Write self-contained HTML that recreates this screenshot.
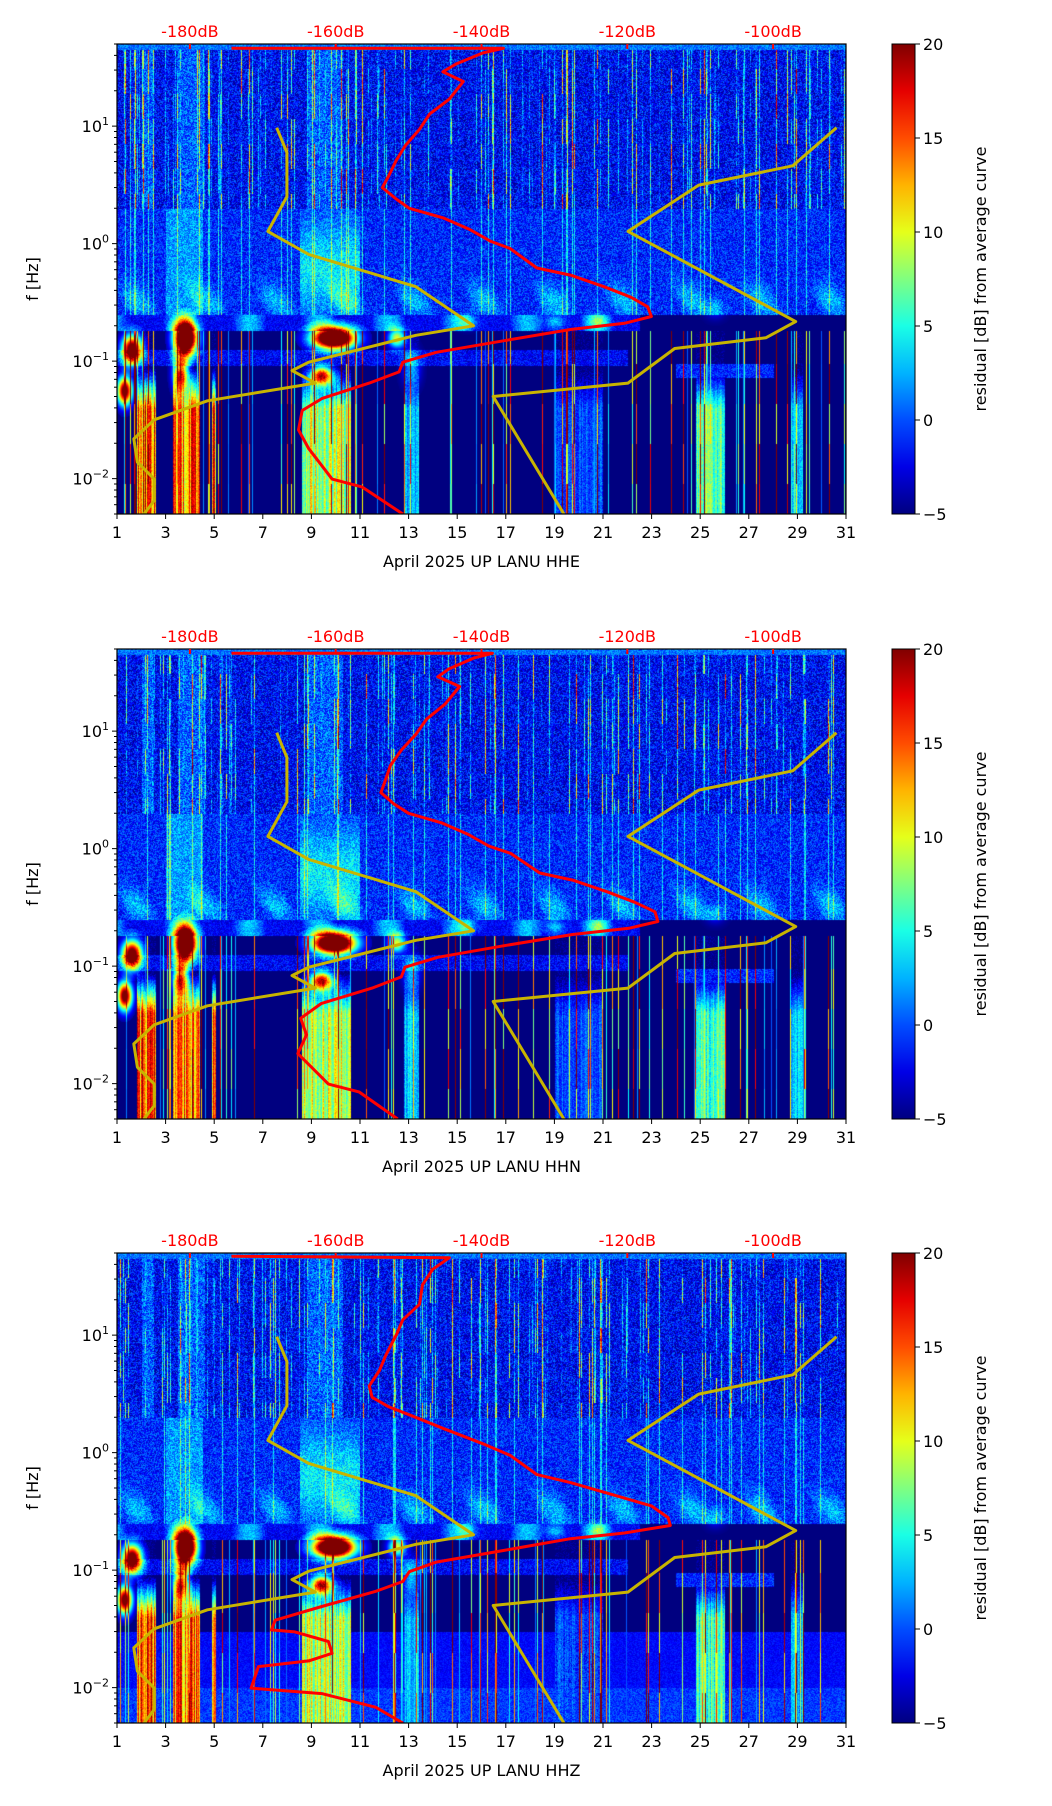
<!DOCTYPE html>
<html><head><meta charset="utf-8">
<style>
html,body{margin:0;padding:0;background:#fff;}
#wrap{position:relative;width:1052px;height:1806px;overflow:hidden;font-family:"DejaVu Sans","Liberation Sans",sans-serif;}
canvas{position:absolute;}
svg{position:absolute;left:0;top:0;}
</style></head>
<body>
<div id="wrap">
<svg id="svg" width="1052" height="1806"></svg>
</div>
<script>
// ---- data ----
const panelTitles = ["April 2025 UP LANU  HHE","April 2025 UP LANU  HHN","April 2025 UP LANU  HHZ"];
const dayTicks = [1,3,5,7,9,11,13,15,17,19,21,23,25,27,29,31];
const dbTicks = [-180,-160,-140,-120,-100];
const cbTicks = [-5,0,5,10,15,20];
const yTickExp = [-2,-1,0,1];
// red curve (average PSD) per panel: dB and frequency (Hz)
const red1Db = [-174.3,-137.0,-139.8,-143.5,-145.3,-142.5,-144.4,-147.1,-148.5,-150.4,-151.7,-152.7,-153.6,-151.7,-149.9,-145.3,-141.6,-138.8,-136.1,-132.4,-127.8,-123.2,-119.5,-117.2,-116.7,-120.4,-127.8,-137.0,-146.2,-150.8,-151.3,-155.4,-161.9,-164.6,-165.1,-163.7,-160.5,-156.4,-150.8];
const red1F  = [46,46,42,33.8,29,24,17,12.7,9.4,6.9,5.1,3.8,3.0,2.4,2.0,1.66,1.32,1.05,0.91,0.62,0.54,0.43,0.35,0.29,0.24,0.21,0.186,0.149,0.119,0.098,0.081,0.065,0.048,0.038,0.026,0.018,0.0099,0.0085,0.005];
const red2Db = [-174.3,-138.5,-141.0,-144.5,-146.0,-143.0,-145.0,-147.5,-149.0,-151.0,-152.5,-153.2,-153.8,-152.0,-150.0,-145.5,-141.8,-139.0,-136.0,-132.0,-127.5,-122.8,-119.0,-116.2,-115.8,-119.8,-127.5,-137.0,-146.0,-150.5,-151.0,-155.0,-162.0,-164.8,-164.0,-165.2,-161.0,-156.8,-151.5];
const red2F  = [46,46,42,33.8,29,24,17,12.7,9.4,6.9,5.1,3.8,3.0,2.4,2.0,1.66,1.32,1.05,0.91,0.62,0.54,0.43,0.35,0.29,0.24,0.21,0.186,0.149,0.119,0.098,0.081,0.065,0.048,0.036,0.026,0.018,0.0099,0.0085,0.005];
const red3Db = [-174.3,-144.4,-146.7,-148.1,-148.5,-150.8,-151.7,-153.1,-154.0,-155.4,-155.0,-152.7,-149.9,-145.3,-139.8,-136.1,-132.4,-127.8,-121.3,-116.7,-114.4,-114.1,-120.4,-127.8,-137.0,-146.2,-149.9,-150.8,-154.5,-161.9,-168.3,-168.8,-165.6,-161.0,-160.5,-163.7,-170.6,-171.6,-161.9,-154.5,-150.8];
const red3F  = [47,45.6,36.3,26.8,18.3,13.5,10,6.8,5.0,3.7,2.96,2.45,2.1,1.61,1.19,0.95,0.65,0.556,0.426,0.352,0.28,0.24,0.207,0.185,0.147,0.117,0.097,0.080,0.066,0.049,0.0375,0.031,0.0298,0.0247,0.0196,0.0169,0.0151,0.0099,0.0089,0.0068,0.005];
// Peterson low / high noise models
const nlnmDb = [-168.1,-166.7,-166.7,-169.3,-163.7,-149.0,-141.1,-149.0,-163.7,-166.0,-162.8,-177.6,-184.9,-187.7,-187.2,-184.9,-184.9,-186.3];
const nlnmF  = [9.7,5.97,2.51,1.27,0.81,0.43,0.20,0.166,0.098,0.083,0.065,0.046,0.0317,0.0218,0.0138,0.0099,0.0065,0.005];
const nhnmDb = [-91.3,-97.3,-110.2,-119.9,-96.9,-101.0,-113.5,-119.9,-138.4,-128.7];
const nhnmF  = [9.7,4.6,3.15,1.27,0.217,0.158,0.128,0.065,0.050,0.005];

const redDb=[red1Db,red2Db,red3Db], redF=[red1F,red2F,red3F];
// ---- layout ----
const L=117, W=729, H=470, tops=[44,649,1253];
const CBX=892, CBW=23;
const LTOP=Math.log10(50), LBOT=Math.log10(0.005);
const NS="http://www.w3.org/2000/svg";
const svg=document.getElementById('svg');
function xDay(d){return L+(d-1)/30*W;}
function dbToDay(db){return 4+(db+180)*0.3;}
function yF(top,f){return top+(LTOP-Math.log10(f))/(LTOP-LBOT)*H;}
function mk(tag,attrs,parent){const e=document.createElementNS(NS,tag);for(const k in attrs)e.setAttribute(k,attrs[k]);(parent||svg).appendChild(e);return e;}
function jet(t){const c=x=>Math.max(0,Math.min(1,x));return [c(1.5-Math.abs(4*t-3))*255,c(1.5-Math.abs(4*t-2))*255,c(1.5-Math.abs(4*t-1))*255];}
function hash(a,b){let h=(a*374761393+b*668265263)|0;h=(h^(h>>>13))*1274126177|0;h=h^(h>>>16);return ((h>>>0)%100000)/100000;}
const blobs=[[3.8,-0.8,0.45,0.14,40],[9.9,-0.8,0.85,0.09,40],[1.6,-0.9,0.4,0.12,30],[1.3,-1.25,0.3,0.12,28],[9.4,-1.12,0.45,0.08,22],[3.6,-1.1,0.3,0.15,20],[12.5,-0.8,0.35,0.08,15],[13.1,-1.05,0.35,0.15,7],[15.4,-0.66,0.4,0.06,5],[19,-0.66,0.4,0.06,5],[20.8,-0.66,0.4,0.06,6],[25.6,-0.55,0.4,0.08,4]];
// low-frequency vertical band amplitude
function band(d){
  if(d>1.8&&d<2.6)return 15; if(d>3.3&&d<4.4)return 14; if(d>4.9&&d<5.05)return 14;
  if(d>8.6&&d<10.6)return 9; if(d>12.8&&d<13.4)return 3; if(d>19&&d<21)return 0;
  if(d>24.8&&d<26)return 6; if(d>28.7&&d<29.2)return 3; return -5;
}
function val(p,d,lf,px,py){
  const n=hash(px,py+p*1000)-0.5, c=hash(px,777+p);
  let v;
  if(lf>1.65){v=1+n*4;}
  else if(lf>0.3){
    v=-2+n*6;
    if(c>0.8)v+=(c-0.8)*100*hash(px,Math.floor(py/25)+p);
    if((d>2&&d<2.5)||(d>3.5&&d<4.6)||(d>8.8&&d<10.3))v+=2.5;
  } else if(lf>-0.6){
    v=-1+n*5;
    v+=4*Math.exp(-Math.pow((lf+0.48)/0.15,2))*Math.max(0,Math.sin(d*2.2+lf*5));
    if(d>8.5&&d<11)v+=5*Math.exp(-Math.pow((lf+0.2)/0.4,2));
    if(d>3&&d<4.5)v+=3;
    if(c>0.92)v+=5;
  } else if(lf>-0.74){
    v=d<22.5?(-2+5*Math.max(0,Math.sin(d*2.2))+n*3):-5;
  } else {
    v=-5;
    if(lf>-1.25){ if(d<22&&Math.abs(lf+0.97)<0.07)v=-2+n*4; if(d>24&&d<28&&Math.abs(lf+1.08)<0.06)v=-1+n*4;}
    const s=Math.max(0,Math.min(1,(-1.05-lf)/0.35));
    const b=band(d);
    if(b>-5){const col=0.75+0.5*hash(px,11+p);v=Math.max(v,-5+(b+5)*s*col+n*3);}
    if(p===2&&lf<-1.52&&v<-1)v=-1.8+n*2;
    if(p===2&&lf<-2&&v<0)v=-0.5+n*3;
    if(c>0.88)v=Math.max(v,(c-0.88)*180*(0.5+hash(px,Math.floor(py/40))));
  }
  for(const b of blobs){const e=Math.exp(-Math.pow((d-b[0])/b[2],2)-Math.pow((lf-b[1])/b[3],2));if(e>0.03)v=v+b[4]*e;}
  return Math.max(-5,Math.min(20,v));
}
tops.forEach((top,p)=>{
  const cv=document.createElement('canvas');cv.width=W;cv.height=H;cv.style.left=L+'px';cv.style.top=top+'px';
  
  
  document.getElementById('wrap').insertBefore(cv,svg);
  const ctx=cv.getContext('2d'),img=ctx.createImageData(W,H);
  for(let y=0;y<H;y++){const lf=LTOP-(y/H)*(LTOP-LBOT);
    for(let x=0;x<W;x++){const d=1+x/W*30;const t=(val(p,d,lf,x,y)+5)/25;const c=jet(t);const i=(y*W+x)*4;img.data[i]=c[0];img.data[i+1]=c[1];img.data[i+2]=c[2];img.data[i+3]=255;}}
  ctx.putImageData(img,0,0);
  const g=mk('g',{});
  
  
  const cp=mk('clipPath',{id:'cp'+p},g);mk('rect',{x:L,y:top,width:W,height:H},cp);
  const cg=mk('g',{'clip-path':'url(#cp'+p+')'},g);
  function line(dbs,fs,color,w,name){
    let s='';dbs.forEach((db,i)=>{s+=(i?'L':'M')+xDay(dbToDay(db)).toFixed(1)+','+yF(top,fs[i]).toFixed(1);});
    const e=mk('path',{d:s,fill:'none',stroke:color,'stroke-width':w,'stroke-linejoin':'round'},cg);
    
    
  }
  line(nlnmDb,nlnmF,'#c8b400',3,'nlnm-curve');
  line(nhnmDb,nhnmF,'#c8b400',3,'nhnm-curve');
  line(redDb[p],redF[p],'#ff0000',3,'average-psd-curve');
  mk('rect',{x:L,y:top,width:W,height:H,fill:'none',stroke:'#000','stroke-width':1.2},g);
  dayTicks.forEach(d=>{const x=xDay(d);mk('line',{x1:x,x2:x,y1:top+H,y2:top+H+5,stroke:'#000'},g);
    const t=mk('text',{x:x,y:top+H+24,'font-size':16,'text-anchor':'middle'},g);t.textContent=d;
    
    });
  const xl=mk('text',{x:L+W/2,y:top+H+53,'font-size':16,'text-anchor':'middle'},g);xl.textContent=panelTitles[p];
  
  
  dbTicks.forEach(db=>{const x=xDay(dbToDay(db));mk('line',{x1:x,x2:x,y1:top,y2:top+5,stroke:'#f00','stroke-width':2},g);
    const t=mk('text',{x:x,y:top-7,'font-size':16,'text-anchor':'middle',fill:'#f00'},g);t.textContent=db+'dB';
    
    });
  for(let e=-3;e<=1;e++)for(let m=1;m<10;m++){const f=m*Math.pow(10,e);if(f<0.005||f>50)continue;const y=yF(top,f);
    mk('line',{x1:L-(m===1?5:3),x2:L,y1:y,y2:y,stroke:'#000'},g);}
  yTickExp.forEach(e=>{const y=yF(top,Math.pow(10,e));const t=mk('text',{x:L-8,y:y+6,'font-size':16,'text-anchor':'end'},g);
    t.innerHTML='10<tspan dy="-7" font-size="11">'+(e<0?'\u2212'+(-e):e)+'</tspan>';
    
    });
  const yl=mk('text',{x:0,y:0,'font-size':16,'text-anchor':'middle',transform:'translate(38,'+(top+H/2)+') rotate(-90)'},g);yl.textContent='f [Hz]';
  
  
  const gid='cbg'+p;const lg=mk('linearGradient',{id:gid,x1:0,y1:1,x2:0,y2:0},g);
  for(let i=0;i<=10;i++){const c=jet(i/10);mk('stop',{offset:i/10,'stop-color':'rgb('+c.map(Math.round).join(',')+')'},lg);}
  const cb=mk('rect',{x:CBX,y:top,width:CBW,height:H,fill:'url(#'+gid+')',stroke:'#000'},g);
  
  
  cbTicks.forEach(v=>{const y=top+H-(v+5)/25*H;mk('line',{x1:CBX+CBW,x2:CBX+CBW+5,y1:y,y2:y,stroke:'#000'},g);
    const t=mk('text',{x:CBX+CBW+8,y:y+6,'font-size':16},g);t.textContent=(v<0?'\u2212'+(-v):v);
    
    });
  const cl=mk('text',{x:0,y:0,'font-size':16,'text-anchor':'middle',transform:'translate(986,'+(top+H/2)+') rotate(-90)'},g);cl.textContent='residual [dB] from average curve';
  
  
});
</script>
</body></html>
